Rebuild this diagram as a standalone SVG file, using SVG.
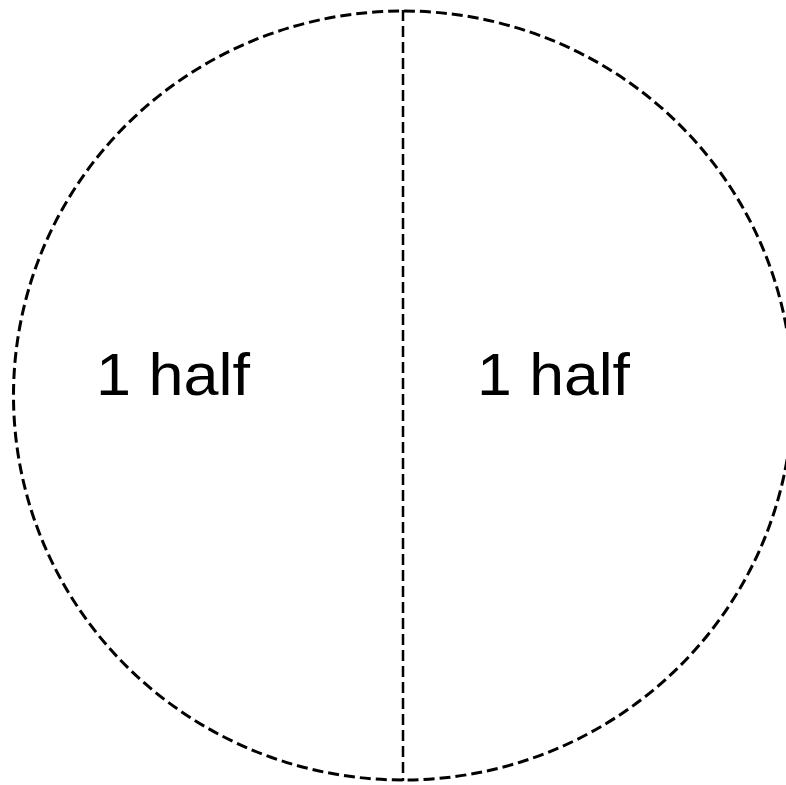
<svg xmlns="http://www.w3.org/2000/svg" width="786" height="785" viewBox="0 0 786 785">
<style>
.outline{fill:none;stroke:#000;stroke-width:3;stroke-dasharray:11 5}
.divider{fill:none;stroke:#000;stroke-width:2.5;stroke-dasharray:11 5}
.label{font-family:"Liberation Sans","Open Sans",Arial,sans-serif;font-size:60px;fill:#000}
</style>
<rect width="786" height="785" fill="#fff"/>
<g id="circle">
<ellipse class="outline" cx="403" cy="395.5" rx="389.5" ry="384.5"/>
</g>
<g id="connectors">
<line class="divider" x1="403" y1="10" x2="403" y2="781"/>
</g>
<g id="left-half">
<text class="label" x="96" y="395" textLength="154" lengthAdjust="spacingAndGlyphs">1 half</text>
</g>
<g id="right-half">
<text class="label" x="477" y="395" textLength="153" lengthAdjust="spacingAndGlyphs">1 half</text>
</g>
</svg>
